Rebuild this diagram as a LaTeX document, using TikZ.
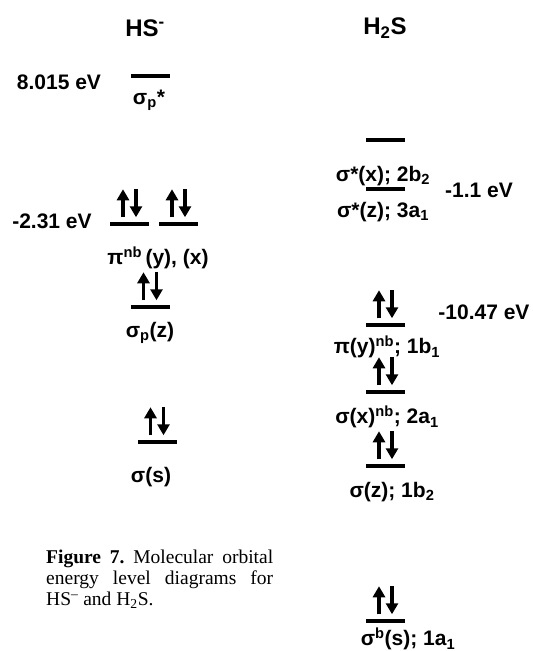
\documentclass[tikz,border=0pt]{standalone}
\usepackage{fontspec}
\setmainfont{Liberation Serif}
\setsansfont{Liberation Sans}
\usepackage{tikz}
\usetikzlibrary{arrows.meta}
\hyphenpenalty=10000
\exhyphenpenalty=10000

\tikzset{
  lvl/.style={fill=black, minimum width=39pt, minimum height=3.5pt, inner sep=0pt, outer sep=0pt},
  lbl/.style={font=\sffamily\bfseries\fontsize{21}{24}\selectfont, inner sep=0pt},
  moltitle/.style={font=\sffamily\bfseries\fontsize{24}{28}\selectfont, inner sep=0pt},
  spin/.style={line width=3.2pt, -{Triangle[width=12pt,length=11pt]}},
}
% two paired electrons above a level
\newcommand{\elpair}[1]{%
  \draw[spin] ([xshift=-6.5pt,yshift=5pt]#1.north) -- ++(0pt,28pt);
  \draw[spin] ([xshift=6.5pt,yshift=33pt]#1.north) -- ++(0pt,-28pt);
}

\begin{document}
\begin{tikzpicture}[x=1pt, y=-1pt]
\useasboundingbox (0,0) rectangle (533,651);
% titles
\node[moltitle] (hstitle) at (145,28) {HS\textsuperscript{-}};
\node[moltitle] (htitle) at (385,28) {H\textsubscript{2}S};
% HS- levels
\node[lvl] (sps) at (150,76) {};
\node[lbl] (spslab) at (149,100) {σ\textsubscript{p}*};
\node[lbl] (ehs1) at (59,82) {8.015 eV};
\node[lvl] (piy) at (129.5,224) {};
\node[lvl] (pix) at (178.5,224) {};
\elpair{piy}
\elpair{pix}
\node[lbl] (ehs2) at (52,221) {-2.31 eV};
\node[lbl] (pilab) at (158,258) {π\textsuperscript{nb}\,(y), (x)};
\node[lvl] (spz) at (150,307) {};
\elpair{spz}
\node[lbl] (spzlab) at (150,333) {σ\textsubscript{p}(z)};
\node[lvl] (ss) at (157,442) {};
\elpair{ss}
\node[lbl] (sslab) at (151,477) {σ(s)};
% H2S levels
\node[lvl] (sx) at (385.5,140) {};
\node[lbl] (sxlab) at (383,176) {σ*(x); 2b\textsubscript{2}};
\node[lvl] (sz) at (385.5,189) {};
\node[lbl] (szlab) at (383,212) {σ*(z); 3a\textsubscript{1}};
\node[lbl] (eh1) at (479,190) {-1.1 eV};
\node[lvl] (bone) at (385.5,325) {};
\elpair{bone}
\node[lbl] (bonelab) at (387,347) {π(y)\textsuperscript{nb}; 1b\textsubscript{1}};
\node[lbl] (eh2) at (484,312) {-10.47 eV};
\node[lvl] (atwo) at (385.5,392) {};
\elpair{atwo}
\node[lbl] (atwolab) at (387,417) {σ(x)\textsuperscript{nb}; 2a\textsubscript{1}};
\node[lvl] (btwo) at (385.5,466) {};
\elpair{btwo}
\node[lbl] (btwolab) at (392,492) {σ(z); 1b\textsubscript{2}};
\node[lvl] (aone) at (385.5,621) {};
\elpair{aone}
\node[lbl] (aonelab) at (408,639) {σ\textsuperscript{b}(s); 1a\textsubscript{1}};
% caption
\node[anchor=north west, text width=227pt, align=justify, inner sep=0pt,
      font=\fontsize{19.5}{21}\selectfont\frenchspacing] (cap) at (46,550)
  {\textbf{Figure 7.} Molecular orbital energy level diagrams for HS\textsuperscript{–} and H\textsubscript{2}S.};
\end{tikzpicture}
\end{document}
